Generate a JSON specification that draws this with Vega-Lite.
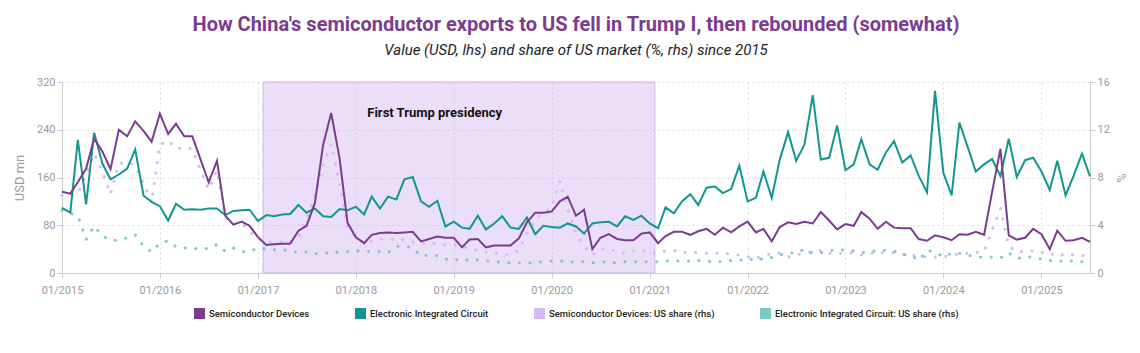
{
"$schema": "https://vega.github.io/schema/vega-lite/v6.json",
"width": 1028, "height": 191,
"autosize": {"type": "none"},
"padding": {"left": 62, "top": 82, "right": 50, "bottom": 80},
"title": {"text": "How China's semiconductor exports to US fell in Trump I, then rebounded (somewhat)", "subtitle": "Value (USD, lhs) and share of US market (%, rhs) since 2015", "anchor": "middle", "font": "Roboto", "fontSize": 20, "fontWeight": "bold", "color": "#7b3c8f", "subtitleFont": "Roboto", "subtitleFontSize": 15, "subtitleFontStyle": "italic", "subtitleColor": "#222222", "subtitlePadding": 8, "offset": 18},
"datasets": {"m": [
{"d":"2015-01-01","sd":136,"eic":109,"sds":6.5,"eics":5.25},
{"d":"2015-02-01","sd":133,"eic":101,"sds":6.4,"eics":5.0},
{"d":"2015-03-01","sd":152,"eic":223,"sds":6.65,"eics":4.8},
{"d":"2015-04-01","sd":175,"eic":115,"sds":8.25,"eics":2.8},
{"d":"2015-05-01","sd":225,"eic":235,"sds":10.0,"eics":3.95},
{"d":"2015-06-01","sd":203,"eic":183,"sds":8.5,"eics":3.1},
{"d":"2015-07-01","sd":174,"eic":157,"sds":6.6,"eics":2.75},
{"d":"2015-08-01","sd":240,"eic":165,"sds":9.15,"eics":2.75},
{"d":"2015-09-01","sd":229,"eic":175,"sds":9.3,"eics":2.95},
{"d":"2015-10-01","sd":254,"eic":207,"sds":9.0,"eics":3.2},
{"d":"2015-11-01","sd":238,"eic":130,"sds":7.5,"eics":2.25},
{"d":"2015-12-01","sd":220,"eic":119,"sds":5.9,"eics":1.75},
{"d":"2016-01-01","sd":267,"eic":112,"sds":10.75,"eics":2.5},
{"d":"2016-02-01","sd":233,"eic":88,"sds":11.1,"eics":2.7},
{"d":"2016-03-01","sd":250,"eic":116,"sds":10.4,"eics":2.2},
{"d":"2016-04-01","sd":229,"eic":106,"sds":10.5,"eics":2.1},
{"d":"2016-05-01","sd":229,"eic":107,"sds":10.4,"eics":2.05},
{"d":"2016-06-01","sd":190,"eic":106,"sds":8.6,"eics":2.05},
{"d":"2016-07-01","sd":152,"eic":108,"sds":7.0,"eics":2.05},
{"d":"2016-08-01","sd":188,"eic":108,"sds":8.6,"eics":2.4},
{"d":"2016-09-01","sd":96,"eic":97,"sds":4.6,"eics":1.8},
{"d":"2016-10-01","sd":81,"eic":104,"sds":4.1,"eics":2.1},
{"d":"2016-11-01","sd":86,"eic":105,"sds":4.2,"eics":1.8},
{"d":"2016-12-01","sd":79,"eic":106,"sds":3.5,"eics":1.8},
{"d":"2017-01-01","sd":60,"eic":87,"sds":2.85,"eics":2.1},
{"d":"2017-02-01","sd":47,"eic":97,"sds":2.6,"eics":2.0},
{"d":"2017-03-01","sd":48,"eic":95,"sds":2.6,"eics":1.95},
{"d":"2017-04-01","sd":49,"eic":98,"sds":2.6,"eics":2.0},
{"d":"2017-05-01","sd":49,"eic":99,"sds":2.6,"eics":1.8},
{"d":"2017-06-01","sd":71,"eic":114,"sds":3.0,"eics":1.75},
{"d":"2017-07-01","sd":79,"eic":101,"sds":4.5,"eics":1.75},
{"d":"2017-08-01","sd":117,"eic":108,"sds":6.5,"eics":1.6},
{"d":"2017-09-01","sd":215,"eic":95,"sds":9.0,"eics":1.75},
{"d":"2017-10-01","sd":268,"eic":94,"sds":10.8,"eics":1.6},
{"d":"2017-11-01","sd":193,"eic":107,"sds":7.5,"eics":1.8},
{"d":"2017-12-01","sd":84,"eic":105,"sds":3.75,"eics":1.8},
{"d":"2018-01-01","sd":60,"eic":111,"sds":3.0,"eics":1.85},
{"d":"2018-02-01","sd":50,"eic":98,"sds":2.5,"eics":1.8},
{"d":"2018-03-01","sd":64,"eic":128,"sds":2.7,"eics":1.85},
{"d":"2018-04-01","sd":67,"eic":108,"sds":2.85,"eics":1.8},
{"d":"2018-05-01","sd":68,"eic":128,"sds":2.85,"eics":1.7},
{"d":"2018-06-01","sd":67,"eic":123,"sds":2.8,"eics":2.25},
{"d":"2018-07-01","sd":68,"eic":157,"sds":2.8,"eics":2.25},
{"d":"2018-08-01","sd":69,"eic":161,"sds":2.6,"eics":2.1},
{"d":"2018-09-01","sd":53,"eic":120,"sds":2.5,"eics":1.4},
{"d":"2018-10-01","sd":57,"eic":111,"sds":2.5,"eics":1.5},
{"d":"2018-11-01","sd":61,"eic":121,"sds":2.5,"eics":1.45},
{"d":"2018-12-01","sd":59,"eic":78,"sds":2.35,"eics":1.15},
{"d":"2019-01-01","sd":59,"eic":86,"sds":2.35,"eics":1.2},
{"d":"2019-02-01","sd":43,"eic":76,"sds":2.25,"eics":0.95},
{"d":"2019-03-01","sd":56,"eic":74,"sds":2.0,"eics":1.15},
{"d":"2019-04-01","sd":57,"eic":96,"sds":1.9,"eics":1.1},
{"d":"2019-05-01","sd":43,"eic":73,"sds":1.75,"eics":1.0},
{"d":"2019-06-01","sd":46,"eic":83,"sds":1.7,"eics":1.0},
{"d":"2019-07-01","sd":46,"eic":95,"sds":1.5,"eics":0.85},
{"d":"2019-08-01","sd":46,"eic":76,"sds":1.6,"eics":0.85},
{"d":"2019-09-01","sd":58,"eic":74,"sds":1.9,"eics":0.85},
{"d":"2019-10-01","sd":85,"eic":93,"sds":3.3,"eics":0.85},
{"d":"2019-11-01","sd":101,"eic":65,"sds":4.5,"eics":0.85},
{"d":"2019-12-01","sd":101,"eic":79,"sds":5.05,"eics":0.95},
{"d":"2020-01-01","sd":103,"eic":77,"sds":5.45,"eics":1.0},
{"d":"2020-02-01","sd":120,"eic":76,"sds":7.7,"eics":1.0},
{"d":"2020-03-01","sd":128,"eic":83,"sds":5.3,"eics":0.95},
{"d":"2020-04-01","sd":96,"eic":78,"sds":3.3,"eics":0.9},
{"d":"2020-05-01","sd":106,"eic":66,"sds":2.25,"eics":0.95},
{"d":"2020-06-01","sd":40,"eic":83,"sds":1.5,"eics":0.85},
{"d":"2020-07-01","sd":59,"eic":85,"sds":2.0,"eics":0.95},
{"d":"2020-08-01","sd":65,"eic":86,"sds":2.05,"eics":0.9},
{"d":"2020-09-01","sd":57,"eic":78,"sds":1.75,"eics":0.85},
{"d":"2020-10-01","sd":55,"eic":95,"sds":1.65,"eics":0.95},
{"d":"2020-11-01","sd":55,"eic":89,"sds":1.85,"eics":0.95},
{"d":"2020-12-01","sd":66,"eic":96,"sds":1.95,"eics":0.95},
{"d":"2021-01-01","sd":68,"eic":83,"sds":1.65,"eics":0.95},
{"d":"2021-02-01","sd":50,"eic":75,"sds":1.7,"eics":0.95},
{"d":"2021-03-01","sd":62,"eic":110,"sds":1.85,"eics":1.0},
{"d":"2021-04-01","sd":69,"eic":100,"sds":1.9,"eics":1.05},
{"d":"2021-05-01","sd":69,"eic":120,"sds":1.7,"eics":0.95},
{"d":"2021-06-01","sd":64,"eic":132,"sds":1.75,"eics":1.0},
{"d":"2021-07-01","sd":70,"eic":114,"sds":1.7,"eics":1.05},
{"d":"2021-08-01","sd":74,"eic":143,"sds":1.65,"eics":0.95},
{"d":"2021-09-01","sd":64,"eic":145,"sds":1.65,"eics":1.0},
{"d":"2021-10-01","sd":76,"eic":134,"sds":1.65,"eics":0.95},
{"d":"2021-11-01","sd":68,"eic":141,"sds":1.6,"eics":1.05},
{"d":"2021-12-01","sd":78,"eic":180,"sds":1.5,"eics":1.1},
{"d":"2022-01-01","sd":86,"eic":120,"sds":1.35,"eics":1.0},
{"d":"2022-02-01","sd":68,"eic":126,"sds":1.2,"eics":1.3},
{"d":"2022-03-01","sd":74,"eic":170,"sds":1.5,"eics":1.1},
{"d":"2022-04-01","sd":53,"eic":126,"sds":1.6,"eics":1.3},
{"d":"2022-05-01","sd":77,"eic":190,"sds":1.65,"eics":1.5},
{"d":"2022-06-01","sd":85,"eic":236,"sds":1.35,"eics":1.7},
{"d":"2022-07-01","sd":82,"eic":188,"sds":1.5,"eics":1.65},
{"d":"2022-08-01","sd":86,"eic":215,"sds":1.7,"eics":2.0},
{"d":"2022-09-01","sd":83,"eic":298,"sds":1.8,"eics":1.65},
{"d":"2022-10-01","sd":102,"eic":190,"sds":1.9,"eics":1.7},
{"d":"2022-11-01","sd":88,"eic":193,"sds":1.65,"eics":1.9},
{"d":"2022-12-01","sd":73,"eic":247,"sds":1.65,"eics":1.9},
{"d":"2023-01-01","sd":82,"eic":172,"sds":1.65,"eics":1.95},
{"d":"2023-02-01","sd":79,"eic":182,"sds":1.7,"eics":1.85},
{"d":"2023-03-01","sd":102,"eic":224,"sds":1.5,"eics":1.7},
{"d":"2023-04-01","sd":91,"eic":182,"sds":1.65,"eics":1.75},
{"d":"2023-05-01","sd":74,"eic":173,"sds":1.7,"eics":1.9},
{"d":"2023-06-01","sd":86,"eic":202,"sds":1.7,"eics":1.9},
{"d":"2023-07-01","sd":76,"eic":221,"sds":1.7,"eics":1.85},
{"d":"2023-08-01","sd":75,"eic":185,"sds":1.55,"eics":1.55},
{"d":"2023-09-01","sd":75,"eic":197,"sds":1.5,"eics":1.5},
{"d":"2023-10-01","sd":57,"eic":163,"sds":1.4,"eics":1.05},
{"d":"2023-11-01","sd":54,"eic":135,"sds":1.35,"eics":1.9},
{"d":"2023-12-01","sd":63,"eic":305,"sds":1.35,"eics":1.75},
{"d":"2024-01-01","sd":60,"eic":168,"sds":1.35,"eics":1.35},
{"d":"2024-02-01","sd":55,"eic":130,"sds":1.5,"eics":1.65},
{"d":"2024-03-01","sd":65,"eic":252,"sds":1.6,"eics":1.65},
{"d":"2024-04-01","sd":64,"eic":211,"sds":1.65,"eics":1.5},
{"d":"2024-05-01","sd":69,"eic":170,"sds":1.7,"eics":1.35},
{"d":"2024-06-01","sd":64,"eic":182,"sds":1.8,"eics":1.35},
{"d":"2024-07-01","sd":136,"eic":191,"sds":3.6,"eics":1.35},
{"d":"2024-08-01","sd":208,"eic":162,"sds":5.4,"eics":1.25},
{"d":"2024-09-01","sd":63,"eic":225,"sds":2.25,"eics":1.7},
{"d":"2024-10-01","sd":56,"eic":161,"sds":1.75,"eics":1.2},
{"d":"2024-11-01","sd":59,"eic":189,"sds":1.85,"eics":1.35},
{"d":"2024-12-01","sd":74,"eic":193,"sds":1.85,"eics":1.35},
{"d":"2025-01-01","sd":65,"eic":170,"sds":1.75,"eics":1.15},
{"d":"2025-02-01","sd":40,"eic":139,"sds":1.5,"eics":1.05},
{"d":"2025-03-01","sd":71,"eic":188,"sds":1.7,"eics":1.05},
{"d":"2025-04-01","sd":54,"eic":130,"sds":1.4,"eics":0.9},
{"d":"2025-05-01","sd":55,"eic":163,"sds":1.55,"eics":1.05},
{"d":"2025-06-01","sd":59,"eic":200,"sds":1.45,"eics":0.95},
{"d":"2025-07-01","sd":52,"eic":162,"sds":1.35,"eics":0.9}
]},
"data": {"name": "m"},
"layer": [
{"data": {"values": [{"s": "2017-01-20", "e": "2021-01-20"}]},
 "mark": {"type": "rect", "fill": "#c9a8ee", "fillOpacity": 0.38, "stroke": "#cdb6ec", "strokeWidth": 1},
 "encoding": {"x": {"field": "s", "type": "temporal", "title": null, "scale": {"domain": ["2015-01-01", "2025-07-01"], "nice": false}}, "x2": {"field": "e"}}},
{"transform": [{"fold": ["sds", "eics"], "as": ["series", "v"]}],
 "mark": {"type": "line", "strokeWidth": 3, "strokeCap": "round", "strokeDash": [0.1, 10.5]},
 "encoding": {
  "x": {"field": "d", "type": "temporal", "title": null},
  "y": {"field": "v", "type": "quantitative", "scale": {"domain": [0, 16], "nice": false}, "axis": {"orient": "right", "values": [0, 4, 8, 12, 16], "grid": false, "title": "%"}},
  "color": {"field": "series", "type": "nominal", "scale": {"domain": ["sd", "eic", "sds", "eics"], "range": ["#7b3c8f", "#12968f", "#d4baf0", "#7ccac6"]},
   "legend": {"orient": "bottom", "direction": "horizontal", "title": null, "offset": 13, "symbolType": "square", "symbolSize": 121, "columnPadding": 45, "labelLimit": 0, "labelFont": "Roboto", "labelFontSize": 9.5, "labelFontWeight": 500, "labelColor": "#222222",
    "labelExpr": "datum.value == 'sd' ? 'Semiconductor Devices' : datum.value == 'eic' ? 'Electronic Integrated Circuit' : datum.value == 'sds' ? 'Semiconductor Devices: US share (rhs)' : 'Electronic Integrated Circuit: US share (rhs)'",
    "encode": {"symbols": {"update": {"fill": {"scale": "color", "field": "value"}, "strokeWidth": {"value": 0}, "opacity": {"value": 1}}}}}}}},
{"layer": [
 {"transform": [{"fold": ["eic", "sd"], "as": ["series", "v"]}],
  "mark": {"type": "line", "strokeWidth": 2},
  "encoding": {
   "x": {"field": "d", "type": "temporal", "title": null},
   "y": {"field": "v", "type": "quantitative", "scale": {"domain": [0, 320], "nice": false}, "axis": {"orient": "left", "values": [0, 80, 160, 240, 320], "title": "USD mn", "titlePadding": 10, "grid": true}},
   "color": {"field": "series", "type": "nominal", "scale": {"domain": ["sd", "eic", "sds", "eics"], "range": ["#7b3c8f", "#12968f", "#d4baf0", "#7ccac6"]},
    "legend": {"orient": "bottom", "direction": "horizontal", "title": null, "offset": 13, "symbolType": "square", "symbolSize": 121, "columnPadding": 45, "labelLimit": 0, "labelFont": "Roboto", "labelFontSize": 9.5, "labelFontWeight": 500, "labelColor": "#222222",
     "labelExpr": "datum.value == 'sd' ? 'Semiconductor Devices' : datum.value == 'eic' ? 'Electronic Integrated Circuit' : datum.value == 'sds' ? 'Semiconductor Devices: US share (rhs)' : 'Electronic Integrated Circuit: US share (rhs)'",
     "encode": {"symbols": {"update": {"fill": {"scale": "color", "field": "value"}, "strokeWidth": {"value": 0}, "opacity": {"value": 1}}}}}}}},
 {"data": {"values": [{"d": "2018-10-22", "v": 268, "t": "First Trump presidency"}]},
  "mark": {"type": "text", "font": "Roboto", "fontSize": 13, "fontWeight": "bold", "color": "#111111"},
  "encoding": {"x": {"field": "d", "type": "temporal", "title": null}, "y": {"field": "v", "type": "quantitative"}, "text": {"field": "t"}}}
]}
],
"resolve": {"scale": {"y": "independent"}},
"config": {
 "font": "Roboto",
 "view": {"stroke": null},
 "legend": {"layout": {"bottom": {"anchor": "middle"}}},
 "axis": {"labelFont": "Roboto", "labelFontSize": 11, "labelColor": "#9a9a9a", "titleFont": "Roboto", "titleFontSize": 13, "titleColor": "#9a9a9a", "titleFontWeight": "normal", "domainColor": "#cccccc", "tickColor": "#cccccc", "gridColor": "#dddddd", "gridDash": [2, 3], "tickSize": 5},
 "axisX": {"format": "%m/%Y", "tickCount": {"interval": "year", "step": 1}, "grid": true, "labelPadding": 6, "labelAlign": "center", "labelFlush": false}
}
}
